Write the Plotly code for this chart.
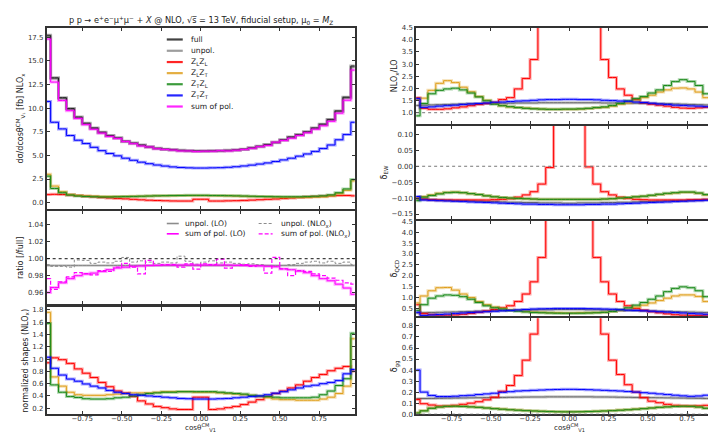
import plotly.graph_objects as go

# ---------------- data (bin centres of cos(theta) histogram) ----------------
cos_centres = [-0.975, -0.925, -0.875, -0.825, -0.775, -0.725, -0.675, -0.625, -0.575, -0.525,
               -0.475, -0.425, -0.375, -0.325, -0.275, -0.225, -0.175, -0.125, -0.075, -0.025,
               0.025, 0.075, 0.125, 0.175, 0.225, 0.275, 0.325, 0.375, 0.425, 0.475,
               0.525, 0.575, 0.625, 0.675, 0.725, 0.775, 0.825, 0.875, 0.925, 0.975]
x_ticks = [-0.75, -0.5, -0.25, 0.0, 0.25, 0.5, 0.75]

# panel 1: dsigma/dcos [fb] NLOx
xs_full = [17.7, 13.2, 11.1, 9.95, 9.05, 8.4, 7.9, 7.45, 7.1, 6.85, 6.5, 6.3, 6.1, 5.9, 5.75, 5.66, 5.6, 5.53, 5.5, 5.47,
           5.47, 5.48, 5.5, 5.53, 5.58, 5.66, 5.8, 5.97, 6.15, 6.38, 6.65, 6.95, 7.2, 7.5, 7.9, 8.3, 8.8, 9.7, 11.15, 14.45]
xs_unpol = [17.55, 13.1, 11.0, 9.87, 8.98, 8.33, 7.84, 7.39, 7.04, 6.8, 6.45, 6.25, 6.05, 5.85, 5.7, 5.61, 5.56, 5.49, 5.46, 5.43,
            5.43, 5.44, 5.46, 5.49, 5.54, 5.61, 5.75, 5.92, 6.1, 6.33, 6.6, 6.9, 7.14, 7.44, 7.84, 8.23, 8.73, 9.62, 11.06, 14.33]
xs_sum = [17.3, 12.75, 10.8, 9.73, 8.9, 8.25, 7.75, 7.35, 7.0, 6.78, 6.47, 6.24, 5.99, 5.89, 5.7, 5.62, 5.56, 5.47, 5.47, 5.4,
          5.44, 5.44, 5.5, 5.47, 5.54, 5.62, 5.75, 5.92, 6.05, 6.39, 6.57, 6.81, 7.1, 7.39, 7.76, 8.13, 8.6, 9.46, 10.83, 14.02]
xs_LL = [0.85, 0.88, 0.86, 0.82, 0.75, 0.68, 0.62, 0.55, 0.5, 0.45, 0.4, 0.35, 0.3, 0.26, 0.23, 0.2, 0.18, 0.17, 0.17, 0.36,
         0.36, 0.17, 0.17, 0.19, 0.21, 0.24, 0.27, 0.31, 0.35, 0.39, 0.44, 0.49, 0.54, 0.59, 0.64, 0.68, 0.72, 0.75, 0.76, 0.72]
xs_LT = [3.0, 1.75, 1.15, 0.85, 0.75, 0.7, 0.68, 0.66, 0.65, 0.65, 0.66, 0.67, 0.68, 0.7, 0.72, 0.73, 0.74, 0.75, 0.75, 0.75,
         0.75, 0.74, 0.73, 0.72, 0.7, 0.68, 0.66, 0.64, 0.62, 0.6, 0.58, 0.57, 0.56, 0.57, 0.6, 0.62, 0.72, 0.95, 1.3, 2.3]
xs_TL = [2.8, 1.5, 1.05, 0.8, 0.7, 0.65, 0.62, 0.6, 0.6, 0.62, 0.64, 0.66, 0.68, 0.7, 0.72, 0.74, 0.75, 0.76, 0.77, 0.77,
         0.77, 0.76, 0.75, 0.74, 0.72, 0.7, 0.68, 0.66, 0.64, 0.63, 0.62, 0.62, 0.62, 0.64, 0.68, 0.72, 0.82, 1.05, 1.45, 2.45]
xs_TT = [10.7, 8.5, 7.8, 7.1, 6.6, 6.25, 5.85, 5.5, 5.2, 4.95, 4.7, 4.48, 4.28, 4.12, 3.98, 3.87, 3.78, 3.72, 3.68, 3.66,
         3.66, 3.68, 3.7, 3.74, 3.8, 3.88, 3.97, 4.08, 4.2, 4.35, 4.52, 4.7, 4.92, 5.15, 5.42, 5.72, 6.1, 6.65, 7.2, 8.5]

# panel 2: ratio to full
r_unpol_LO = [0.992, 0.992, 0.992, 0.992, 0.992, 0.992, 0.992, 0.992, 0.992, 0.992,
              0.992, 0.992, 0.992, 0.992, 0.992, 0.992, 0.992, 0.992, 0.992, 0.992,
              0.992, 0.992, 0.992, 0.992, 0.992, 0.992, 0.992, 0.992, 0.992, 0.992,
              0.992, 0.992, 0.992, 0.992, 0.992, 0.992, 0.992, 0.992, 0.992, 0.992]
r_unpol_NLO = [0.993, 0.991, 0.991, 0.990, 0.9985, 0.998, 0.9945, 0.996, 0.995, 0.997, 1.0015, 0.996, 0.9975, 0.996, 0.9945,
               0.996, 0.995, 1.003, 0.997, 0.9935, 0.996, 0.9975, 0.995, 0.996, 0.9945, 0.9935, 0.994, 0.993, 0.992, 0.991,
               0.992, 0.993, 0.9945, 0.996, 0.997, 0.995, 0.997, 0.9945, 0.996, 0.993]
r_sum_LO = [0.960, 0.966, 0.9715, 0.9765, 0.980, 0.982, 0.983, 0.985, 0.987, 0.989, 0.990, 0.991, 0.9915, 0.992, 0.9923,
            0.9925, 0.9925, 0.9925, 0.9925, 0.9925, 0.9925, 0.9925, 0.9925, 0.9925, 0.9923, 0.992, 0.9918, 0.9915, 0.991,
            0.9905, 0.988, 0.987, 0.9854, 0.9835, 0.980, 0.9765, 0.974, 0.970, 0.9654, 0.958]
r_sum_NLO = [0.9765, 0.9638, 0.9727, 0.9785, 0.9835, 0.9823, 0.981, 0.986, 0.985, 0.990, 0.9946, 0.990, 0.982, 0.998, 0.992,
             0.993, 0.993, 0.990, 0.994, 0.9877, 0.994, 0.993, 0.9996, 0.989, 0.992, 0.993, 0.991, 0.992, 0.983, 1.0015,
             0.988, 0.980, 0.986, 0.985, 0.982, 0.980, 0.977, 0.9746, 0.9715, 0.970]

# panel 3: normalized shapes (NLOx)
n_LL = [0.94, 1.02, 0.99, 0.93, 0.84, 0.77, 0.70, 0.62, 0.55, 0.48, 0.45, 0.39, 0.32, 0.27, 0.23, 0.21, 0.19, 0.18, 0.18, 0.38,
        0.38, 0.18, 0.19, 0.21, 0.23, 0.26, 0.30, 0.34, 0.39, 0.44, 0.48, 0.53, 0.58, 0.64, 0.70, 0.75, 0.81, 0.85, 0.88, 0.80]
n_LT = [1.76, 0.71, 0.56, 0.46, 0.42, 0.41, 0.41, 0.41, 0.42, 0.43, 0.44, 0.45, 0.45, 0.45, 0.46, 0.47, 0.47, 0.47, 0.47, 0.46,
        0.46, 0.46, 0.45, 0.44, 0.43, 0.42, 0.41, 0.39, 0.37, 0.35, 0.34, 0.34, 0.33, 0.33, 0.33, 0.35, 0.38, 0.44, 0.56, 1.33]
n_TL = [1.58, 0.58, 0.46, 0.39, 0.375, 0.355, 0.35, 0.35, 0.355, 0.37, 0.38, 0.40, 0.42, 0.44, 0.45, 0.46, 0.46, 0.47, 0.47, 0.47,
        0.47, 0.47, 0.46, 0.45, 0.44, 0.43, 0.41, 0.40, 0.39, 0.38, 0.37, 0.37, 0.37, 0.37, 0.38, 0.42, 0.48, 0.57, 0.68, 1.42]
n_TT = [1.03, 0.85, 0.74, 0.675, 0.64, 0.595, 0.56, 0.53, 0.49, 0.46, 0.44, 0.42, 0.41, 0.40, 0.39, 0.38, 0.37, 0.36, 0.355, 0.35,
        0.35, 0.35, 0.355, 0.36, 0.37, 0.38, 0.39, 0.40, 0.42, 0.445, 0.47, 0.50, 0.53, 0.56, 0.575, 0.60, 0.62, 0.65, 0.76, 0.83]

# right panel A: NLOx/LO
k_unpol = [1.3, 1.31, 1.32, 1.33, 1.34, 1.35, 1.36, 1.37, 1.37, 1.38, 1.38, 1.39, 1.39, 1.4, 1.4, 1.4, 1.41, 1.41, 1.41, 1.41,
           1.41, 1.41, 1.41, 1.41, 1.4, 1.4, 1.4, 1.39, 1.39, 1.38, 1.38, 1.37, 1.37, 1.36, 1.35, 1.34, 1.33, 1.32, 1.31, 1.3]
k_LL = [1.62, 1.18, 1.14, 1.14, 1.16, 1.2, 1.24, 1.29, 1.34, 1.38, 1.43, 1.54, 1.62, 1.98, 2.41, 3.19, 5.5, 8.0, 12.0, 16.0,
        16.0, 12.0, 8.0, 5.5, 3.19, 2.45, 1.98, 1.72, 1.55, 1.41, 1.35, 1.31, 1.27, 1.22, 1.19, 1.18, 1.2, 1.22, 1.24, 1.62]
k_LT = [1.55, 1.6, 1.92, 2.21, 2.32, 2.24, 2.05, 1.86, 1.67, 1.51, 1.38, 1.29, 1.24, 1.21, 1.19, 1.17, 1.15, 1.14, 1.14, 1.14,
        1.14, 1.15, 1.17, 1.2, 1.22, 1.27, 1.35, 1.4, 1.49, 1.62, 1.72, 1.85, 1.94, 2.01, 2.02, 1.98, 1.85, 1.62, 1.25, 0.87]
k_TL = [0.87, 1.38, 1.78, 1.92, 1.98, 2.01, 1.94, 1.81, 1.65, 1.49, 1.35, 1.29, 1.25, 1.21, 1.18, 1.16, 1.15, 1.14, 1.14, 1.15,
        1.15, 1.16, 1.18, 1.21, 1.24, 1.3, 1.38, 1.49, 1.58, 1.67, 1.81, 1.94, 2.12, 2.28, 2.36, 2.29, 2.12, 1.78, 1.58, 1.24]
k_TT = [1.58, 1.22, 1.24, 1.27, 1.29, 1.31, 1.34, 1.36, 1.38, 1.4, 1.43, 1.44, 1.46, 1.48, 1.49, 1.51, 1.53, 1.54, 1.54, 1.55,
        1.55, 1.54, 1.54, 1.53, 1.51, 1.5, 1.48, 1.47, 1.44, 1.42, 1.39, 1.36, 1.34, 1.31, 1.3, 1.28, 1.27, 1.25, 1.24, 1.58]

# right panel B: delta_EW
ew_unpol = [-0.103, -0.104, -0.105, -0.106, -0.107, -0.108, -0.108, -0.109, -0.11, -0.111, -0.111, -0.112, -0.113, -0.113,
            -0.114, -0.114, -0.115, -0.115, -0.115, -0.116, -0.116, -0.115, -0.115, -0.115, -0.114, -0.114, -0.113, -0.113,
            -0.112, -0.111, -0.111, -0.11, -0.109, -0.108, -0.108, -0.107, -0.106, -0.105, -0.104, -0.103]
ew_LL = [-0.100, -0.103, -0.105, -0.106, -0.106, -0.106, -0.106, -0.106, -0.106, -0.106, -0.105, -0.104, -0.102, -0.097,
         -0.09, -0.08, -0.056, -0.004, 0.3, 0.6, 0.6, 0.3, -0.002, -0.056, -0.08, -0.09, -0.097, -0.101, -0.104, -0.105,
         -0.106, -0.106, -0.106, -0.106, -0.106, -0.105, -0.105, -0.104, -0.103, -0.1]
ew_LT = [-0.1, -0.095, -0.09, -0.085, -0.082, -0.081, -0.083, -0.086, -0.089, -0.093, -0.096, -0.098, -0.1, -0.101, -0.102,
         -0.103, -0.104, -0.104, -0.104, -0.104, -0.104, -0.104, -0.104, -0.104, -0.103, -0.102, -0.1, -0.098, -0.096,
         -0.094, -0.092, -0.089, -0.086, -0.084, -0.082, -0.082, -0.085, -0.09, -0.096, -0.1]
ew_TL = [-0.108, -0.097, -0.092, -0.087, -0.083, -0.082, -0.083, -0.086, -0.089, -0.093, -0.096, -0.098, -0.1, -0.101,
         -0.102, -0.103, -0.104, -0.104, -0.104, -0.104, -0.104, -0.104, -0.104, -0.104, -0.103, -0.102, -0.1, -0.098,
         -0.096, -0.094, -0.091, -0.088, -0.085, -0.083, -0.081, -0.081, -0.084, -0.089, -0.095, -0.102]
ew_TT = [-0.095, -0.106, -0.107, -0.108, -0.109, -0.11, -0.111, -0.112, -0.113, -0.114, -0.115, -0.116, -0.117, -0.118,
         -0.119, -0.119, -0.12, -0.12, -0.121, -0.121, -0.121, -0.121, -0.12, -0.12, -0.119, -0.119, -0.118, -0.117,
         -0.116, -0.115, -0.114, -0.113, -0.112, -0.111, -0.11, -0.109, -0.108, -0.107, -0.106, -0.094]

# right panel C: delta_QCD
qcd_unpol = [0.29, 0.3, 0.31, 0.32, 0.33, 0.34, 0.35, 0.36, 0.37, 0.38, 0.39, 0.4, 0.41, 0.42, 0.43, 0.43, 0.44, 0.44, 0.45, 0.45,
             0.45, 0.45, 0.44, 0.44, 0.43, 0.43, 0.42, 0.41, 0.4, 0.39, 0.38, 0.37, 0.36, 0.35, 0.34, 0.33, 0.32, 0.31, 0.3, 0.29]
qcd_LL = [0.67, 0.26, 0.21, 0.19, 0.19, 0.2, 0.23, 0.27, 0.32, 0.38, 0.45, 0.53, 0.62, 0.82, 1.16, 1.72, 2.84, 5.0, 8.0, 10.0,
          10.0, 8.0, 5.0, 2.84, 1.72, 1.16, 0.82, 0.62, 0.5, 0.42, 0.35, 0.3, 0.25, 0.21, 0.19, 0.18, 0.18, 0.19, 0.22, 0.3]
qcd_LT = [0.75, 1.07, 1.31, 1.45, 1.46, 1.34, 1.16, 1.0, 0.82, 0.67, 0.56, 0.5, 0.44, 0.4, 0.36, 0.33, 0.32, 0.3, 0.3, 0.29,
          0.29, 0.3, 0.3, 0.31, 0.32, 0.36, 0.41, 0.47, 0.56, 0.65, 0.75, 0.86, 0.97, 1.07, 1.12, 1.12, 1.05, 0.82, 0.44, 0.17]
qcd_TL = [0.41, 0.67, 0.97, 1.07, 1.12, 1.1, 1.04, 0.92, 0.77, 0.62, 0.53, 0.47, 0.41, 0.37, 0.34, 0.31, 0.3, 0.29, 0.28, 0.28,
          0.28, 0.28, 0.29, 0.3, 0.32, 0.36, 0.44, 0.53, 0.65, 0.77, 0.92, 1.07, 1.27, 1.42, 1.49, 1.45, 1.31, 1.04, 0.77, 0.29]
qcd_TT = [0.32, 0.17, 0.2, 0.22, 0.24, 0.27, 0.29, 0.31, 0.33, 0.35, 0.37, 0.39, 0.41, 0.43, 0.45, 0.47, 0.48, 0.49, 0.5, 0.5,
          0.5, 0.5, 0.49, 0.48, 0.47, 0.46, 0.44, 0.42, 0.41, 0.39, 0.37, 0.35, 0.33, 0.31, 0.29, 0.27, 0.25, 0.23, 0.21, 0.29]

# right panel D: delta_gg
gg_unpol = [0.14, 0.142, 0.143, 0.144, 0.145, 0.146, 0.147, 0.148, 0.149, 0.15, 0.151, 0.152, 0.153, 0.154, 0.155, 0.156,
            0.156, 0.157, 0.157, 0.157, 0.157, 0.157, 0.157, 0.156, 0.156, 0.155, 0.154, 0.153, 0.152, 0.151, 0.15, 0.149,
            0.148, 0.147, 0.146, 0.145, 0.144, 0.143, 0.142, 0.14]
gg_LL = [0.133, 0.095, 0.083, 0.074, 0.074, 0.08, 0.089, 0.1, 0.113, 0.13, 0.154, 0.207, 0.26, 0.35, 0.49, 0.726, 1.2, 1.8,
         2.5, 3.0, 3.0, 2.5, 1.8, 1.2, 0.726, 0.49, 0.36, 0.267, 0.2, 0.15, 0.118, 0.104, 0.089, 0.08, 0.076, 0.075, 0.076,
         0.08, 0.083, 0.09]
gg_LT = [0.012, 0.032, 0.055, 0.066, 0.072, 0.073, 0.071, 0.067, 0.063, 0.057, 0.051, 0.046, 0.041, 0.037, 0.033, 0.03,
         0.027, 0.025, 0.023, 0.022, 0.022, 0.023, 0.025, 0.027, 0.03, 0.033, 0.037, 0.041, 0.046, 0.051, 0.057, 0.063,
         0.067, 0.071, 0.073, 0.072, 0.066, 0.055, 0.032, 0.012]
gg_TL = [0.01, 0.03, 0.053, 0.065, 0.071, 0.072, 0.07, 0.066, 0.062, 0.056, 0.05, 0.045, 0.04, 0.036, 0.032, 0.029, 0.026,
         0.024, 0.022, 0.021, 0.021, 0.022, 0.024, 0.026, 0.029, 0.032, 0.036, 0.04, 0.045, 0.05, 0.056, 0.062, 0.066, 0.07,
         0.072, 0.071, 0.065, 0.053, 0.03, 0.01]
gg_TT = [0.40, 0.2, 0.17, 0.16, 0.16, 0.163, 0.168, 0.171, 0.178, 0.184, 0.19, 0.198, 0.204, 0.21, 0.213, 0.216, 0.219, 0.222,
         0.224, 0.225, 0.225, 0.224, 0.222, 0.219, 0.216, 0.213, 0.21, 0.205, 0.2, 0.195, 0.19, 0.184, 0.178, 0.172, 0.166,
         0.162, 0.165, 0.172, 0.21, 0.44]

# ---------------- styling ----------------
W, H = 716, 432
FONT = "DejaVu Sans"
C_FULL = "#222222"
C_UNPOL = "#8c8c8c"
C_UNPOL_R = "#666666"
C_LL = "#ff0000"
C_LT = "#e0a020"
C_TL = "#1a8a1a"
C_TT = "#0000ff"
C_SUM = "#ff00ff"
FRAME = "#333333"


def px(xp):
    return xp / W


def py(yp):
    return 1 - yp / H


fig = go.Figure()


def step(y, color, ax, band=True, width=1.0, dash=None, band_w=3.0, band_op=0.35):
    xa = "x" if ax == 1 else f"x{ax}"
    ya = "y" if ax == 1 else f"y{ax}"
    if band:
        fig.add_trace(go.Scatter(x=cos_centres, y=y, mode="lines", line=dict(color=color, width=band_w, shape="hvh"),
                                 opacity=band_op, xaxis=xa, yaxis=ya, hoverinfo="skip", showlegend=False))
    fig.add_trace(go.Scatter(x=cos_centres, y=y, mode="lines",
                             line=dict(color=color, width=width, shape="hvh", dash=dash),
                             xaxis=xa, yaxis=ya, showlegend=False))


# panel 1
step(xs_unpol, C_UNPOL, 1)
step(xs_full, C_FULL, 1)
step(xs_LL, C_LL, 1)
step(xs_LT, C_LT, 1)
step(xs_TL, C_TL, 1)
step(xs_TT, C_TT, 1)
step(xs_sum, C_SUM, 1)
# panel 2
step(r_unpol_LO, C_UNPOL, 2)
step(r_unpol_NLO, C_UNPOL, 2, band=False, width=1.0, dash="3px,2px")
step(r_sum_LO, C_SUM, 2)
step(r_sum_NLO, C_SUM, 2, band=False, width=1.2, dash="4px,2px")
# panel 3
step(n_LL, C_LL, 3)
step(n_LT, C_LT, 3)
step(n_TL, C_TL, 3)
step(n_TT, C_TT, 3)
# right panels
for ax, series in [(4, [k_unpol, k_LL, k_LT, k_TL, k_TT]),
                   (5, [ew_unpol, ew_LL, ew_LT, ew_TL, ew_TT]),
                   (6, [qcd_unpol, qcd_LL, qcd_LT, qcd_TL, qcd_TT]),
                   (7, [gg_unpol, gg_LL, gg_LT, gg_TL, gg_TT])]:
    for s, c in zip(series, [C_UNPOL_R, C_LL, C_LT, C_TL, C_TT]):
        step(s, c, ax)

# ---------------- axes ----------------
XL = [px(38.7), px(347.3)]
XR = [px(408.7), px(715.5)]
panels = {
    1: dict(xd=XL, yd=[py(201), py(16)], yr=[-0.7, 18.5], dt=2.5, fmt=".1f",
            title="dσ/dcosθ<sup>CM</sup><sub>V₁</sub> [fb] NLO<sub>x</sub>", xl=False),
    2: dict(xd=XL, yd=[py(298), py(203)], yr=[0.946, 1.056], dt=0.02, fmt=".2f", title="ratio [/full]", xl=False),
    3: dict(xd=XL, yd=[py(410), py(301)], yr=[0.1, 1.84], dt=0.2, fmt=".1f",
            title="normalized shapes (NLO<sub>x</sub>)", xl=True),
    4: dict(xd=XR, yd=[py(114), py(16)], yr=[0.54, 4.5], dt=0.5, fmt=".1f", title="NLO<sub>x</sub>/LO", xl=False),
    5: dict(xd=XR, yd=[py(211), py(116)], yr=[-0.166, 0.127], dt=0.05, fmt=".2f", title="δ<sub>EW</sub>", xl=False),
    6: dict(xd=XR, yd=[py(310), py(213)], yr=[0.14, 4.51], dt=0.5, fmt=".1f", title="δ<sub>QCD</sub>", xl=False),
    7: dict(xd=XR, yd=[py(410), py(312)], yr=[-0.002, 0.87], dt=0.1, fmt=".1f", title="δ<sub>gg</sub>", xl=True),
}
tickfont = dict(family=FONT, size=7, color="#333333")
common = dict(showline=True, linecolor=FRAME, linewidth=1.5, mirror="allticks", ticks="inside", ticklen=3.5,
              tickwidth=0.8, tickcolor=FRAME, showgrid=False, zeroline=False, tickfont=tickfont)
layout = {}
for i, p in panels.items():
    sx = "xaxis" if i == 1 else f"xaxis{i}"
    sy = "yaxis" if i == 1 else f"yaxis{i}"
    ax_x = "x" if i == 1 else f"x{i}"
    ax_y = "y" if i == 1 else f"y{i}"
    xd = dict(domain=p["xd"], anchor=ax_y, range=[-0.975, 0.975], tickvals=x_ticks, tickformat=".2f",
              showticklabels=p["xl"], ticklabelstandoff=-4, **common)
    layout[sx] = xd
    layout[sy] = dict(domain=p["yd"], anchor=ax_x, range=p["yr"], dtick=p["dt"], tick0=0, tickformat=p["fmt"],
                      title=dict(text=p["title"], font=dict(family=FONT, size=8, color="#222"), standoff=3),
                      **common)

fig.update_layout(width=W, height=H, margin=dict(l=0, r=0, t=0, b=0), plot_bgcolor="white",
                  paper_bgcolor="white", showlegend=False, font=dict(family=FONT, size=8, color="#222"), **layout)

# reference lines
shapes = [
    dict(type="line", xref="x2 domain", x0=0, x1=1, yref="y2", y0=1.0, y1=1.0,
         line=dict(color="#111", width=1, dash="dot")),
    dict(type="line", xref="x4 domain", x0=0, x1=1, yref="y4", y0=1.0, y1=1.0,
         line=dict(color="#777", width=1, dash="dot")),
    dict(type="line", xref="x5 domain", x0=0, x1=1, yref="y5", y0=0.0, y1=0.0,
         line=dict(color="#777", width=1, dash="dot")),
    dict(type="line", xref="x7 domain", x0=0, x1=1, yref="y7", y0=0.0, y1=0.0,
         line=dict(color="#777", width=1, dash="dot")),
]
annotations = []

# legend of panel 1
leg1 = [("full", C_FULL), ("unpol.", C_UNPOL), ("Z<sub>L</sub>Z<sub>L</sub>", C_LL),
        ("Z<sub>L</sub>Z<sub>T</sub>", C_LT), ("Z<sub>T</sub>Z<sub>L</sub>", C_TL),
        ("Z<sub>T</sub>Z<sub>T</sub>", C_TT), ("sum of pol.", C_SUM)]
rows1 = [28, 39.5, 51, 62.3, 73.6, 85, 96.3]
for (lab, col), yy in zip(leg1, rows1):
    shapes.append(dict(type="line", xref="paper", yref="paper", x0=px(159), x1=px(175), y0=py(yy), y1=py(yy),
                       line=dict(color=col, width=2.2), opacity=0.85))
    annotations.append(dict(xref="paper", yref="paper", x=px(181), y=py(yy), text=lab, showarrow=False,
                            xanchor="left", yanchor="middle", font=dict(family=FONT, size=7.6, color="#222")))

# legend of panel 2
leg2 = [("unpol. (LO)", C_UNPOL, None, 159, 171, 175, 215.5, 1.6),
        ("unpol. (NLO<sub>x</sub>)", C_UNPOL, "3px,2px", 251, 265, 271, 215.5, 1.0),
        ("sum of pol. (LO)", C_SUM, None, 159, 171, 175, 226, 1.6),
        ("sum of pol. (NLO<sub>x</sub>)", C_SUM, "4px,2px", 251, 265, 271, 226, 1.2)]
for lab, col, dash, x0, x1, xt, yy, lw in leg2:
    shapes.append(dict(type="line", xref="paper", yref="paper", x0=px(x0), x1=px(x1), y0=py(yy), y1=py(yy),
                       line=dict(color=col, width=lw, dash=dash)))
    annotations.append(dict(xref="paper", yref="paper", x=px(xt), y=py(yy), text=lab, showarrow=False,
                            xanchor="left", yanchor="middle", font=dict(family=FONT, size=7.6, color="#222")))

# x-axis titles (below the bottom panels)
for xc in (193, 562):
    annotations.append(dict(xref="paper", yref="paper", x=px(xc), y=py(423.4), showarrow=False, xanchor="center",
                            yanchor="middle", text="cosθ<sup>CM</sup><sub>V1</sub>", borderpad=0,
                            font=dict(family=FONT, size=7.2, color="#222")))

# title
annotations.append(dict(xref="paper", yref="paper", x=px(193), y=py(9), showarrow=False, xanchor="center",
                        yanchor="middle",
                        text="p p → e<sup>+</sup>e<sup>−</sup>μ<sup>+</sup>μ<sup>−</sup> + <i>X</i> @ NLO, √s̅ = 13 TeV, "
                             "fiducial setup, μ<sub>0</sub> = <i>M</i><sub>Z</sub>",
                        font=dict(family=FONT, size=8.2, color="#222")))

fig.update_layout(shapes=shapes, annotations=annotations)
fig.write_html("out.html")
